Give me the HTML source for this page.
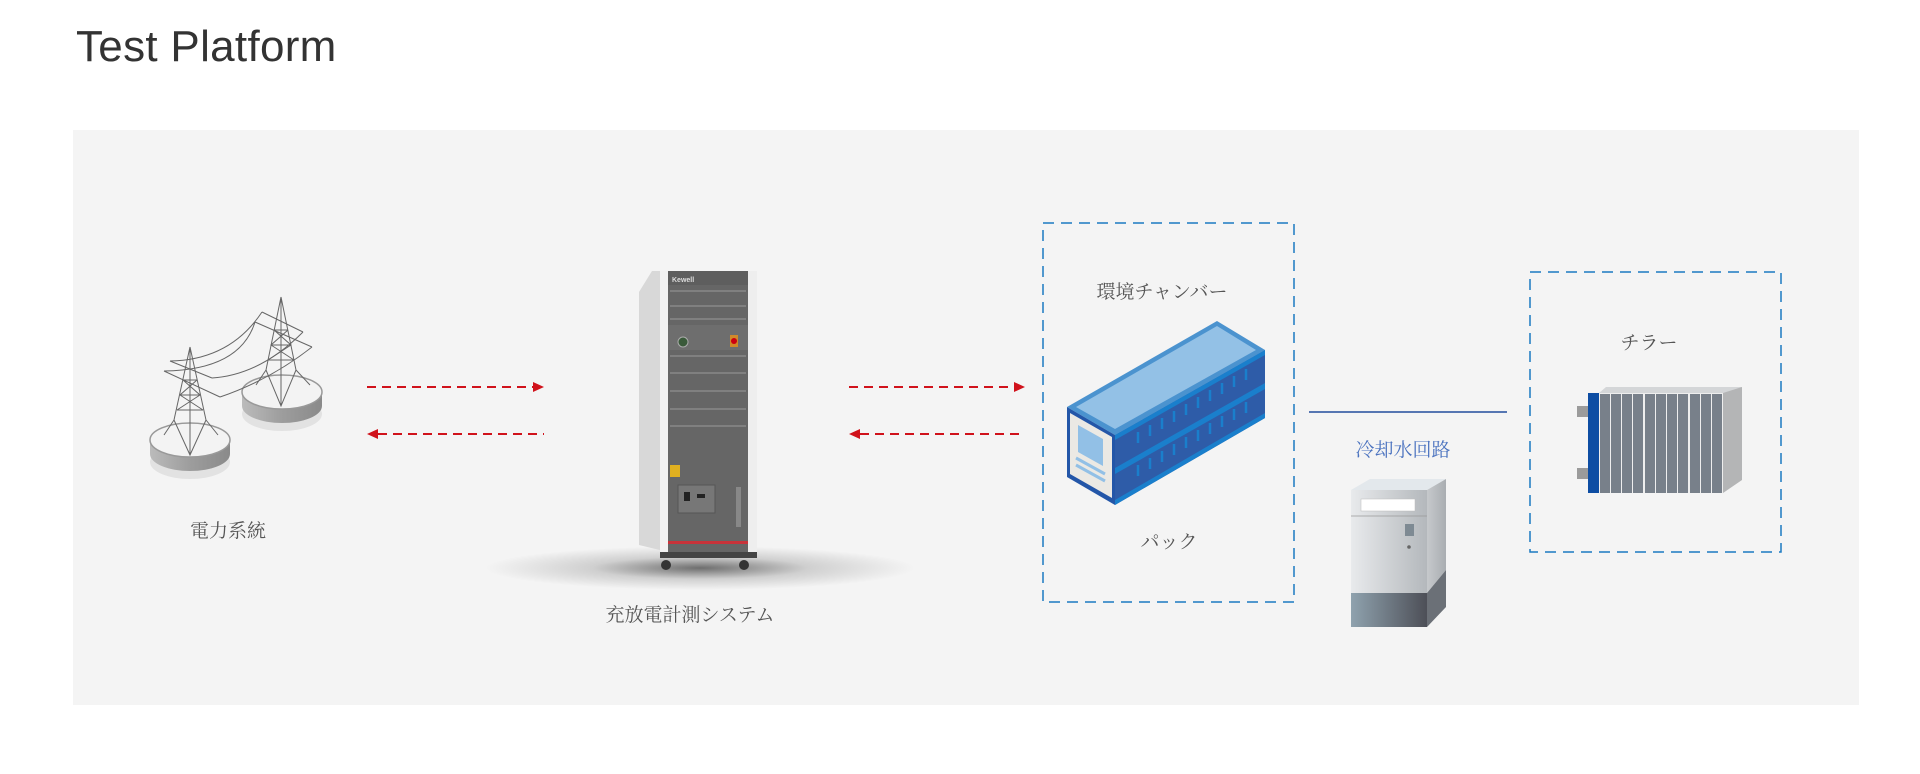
<!DOCTYPE html>
<html><head><meta charset="utf-8"><style>
html,body{margin:0;padding:0;background:#fff;width:1920px;height:774px;overflow:hidden}
.t{font-family:"Liberation Sans",sans-serif;font-size:44px;color:#333;position:absolute;left:76px;top:22px;letter-spacing:0.3px}
svg{position:absolute;left:0;top:0}
.jp{font-family:"Liberation Serif","Noto Serif CJK SC","Noto Sans CJK JP",serif;font-size:19px;fill:#555}
</style></head><body>
<div class="t">Test Platform</div>
<svg width="1920" height="774" viewBox="0 0 1920 774">
<defs>
<radialGradient id="sh" cx="50%" cy="50%" r="50%"><stop offset="0" stop-color="#000" stop-opacity="0.55"/><stop offset="0.5" stop-color="#000" stop-opacity="0.15"/><stop offset="1" stop-color="#000" stop-opacity="0"/></radialGradient>
<linearGradient id="disk" x1="0" x2="1"><stop offset="0" stop-color="#bbb"/><stop offset="0.5" stop-color="#9d9d9d"/><stop offset="1" stop-color="#8a8a8a"/></linearGradient>
<linearGradient id="cf" x1="0" x2="1"><stop offset="0" stop-color="#e8eaec"/><stop offset="1" stop-color="#b4b8bc"/></linearGradient>
<linearGradient id="cb" x1="0" x2="1"><stop offset="0" stop-color="#8fa2ae"/><stop offset="1" stop-color="#4d4f57"/></linearGradient>
<linearGradient id="cs" x1="0" x2="1"><stop offset="0" stop-color="#c6c9cc"/><stop offset="1" stop-color="#a9adb1"/></linearGradient>
</defs>
<rect x="73" y="130" width="1786" height="575" fill="#f4f4f4"/>

<!-- towers -->
<g>
<ellipse cx="190" cy="462" rx="40" ry="17" fill="#e2e2e2"/>
<path d="M150 440 v14 a40 17 0 0 0 80 0 v-14 z" fill="url(#disk)"/>
<ellipse cx="190" cy="440" rx="40" ry="17" fill="#f3f3f3" stroke="#999" stroke-width="1.5"/>
<ellipse cx="282" cy="414" rx="40" ry="17" fill="#e2e2e2"/>
<path d="M242 392 v14 a40 17 0 0 0 80 0 v-14 z" fill="url(#disk)"/>
<ellipse cx="282" cy="392" rx="40" ry="17" fill="#f3f3f3" stroke="#999" stroke-width="1.5"/>
<g stroke="#666" stroke-width="1" fill="none">
<path d="M190 347 L174 420 M190 347 L206 420 M190 347 V455 M174 420 L164 435 M206 420 L218 435 M183 380 L197 380 M180 395 L200 395 M177 410 L203 410 M183 380 L200 395 L177 410 M197 380 L180 395 L203 410 M170 361 L212 378 M164 371 L220 397 M174 420 L190 455 L206 420"/>
<path d="M281 297 L266 370 M281 297 L296 370 M281 297 V406 M266 370 L256 385 M296 370 L310 385 M274 330 L288 330 M271 345 L291 345 M268 360 L294 360 M274 330 L291 345 L268 360 M288 330 L271 345 L294 360 M262 312 L303 332 M255 322 L312 347 M266 370 L281 406 L296 370"/>
<path d="M170 361 Q230 360 262 312 M164 371 Q240 370 255 322 M212 378 Q260 375 303 332 M220 397 Q270 380 312 347"/>
</g>
</g>
<text class="jp" x="228" y="537" text-anchor="middle">電力系統</text>

<!-- red arrows -->
<g stroke="#d0121b" stroke-width="2" stroke-dasharray="9 6">
<line x1="367" y1="387" x2="535" y2="387"/><line x1="378" y1="434" x2="544" y2="434"/>
<line x1="849" y1="387" x2="1017" y2="387"/><line x1="860" y1="434" x2="1025" y2="434"/>
</g>
<g fill="#d0121b">
<path d="M533 382 L544 387 L533 392z"/><path d="M378 429 L367 434 L378 439z"/>
<path d="M1014 382 L1025 387 L1014 392z"/><path d="M860 429 L849 434 L860 439z"/>
</g>

<!-- cabinet -->
<ellipse cx="700" cy="568" rx="215" ry="22" fill="url(#sh)"/>
<g>
<path d="M639 292 L652 271 L668 271 L668 552 L639 545 z" fill="#d8d8d8"/>
<rect x="660" y="271" width="9" height="281" fill="#f2f2f2"/>
<rect x="668" y="271" width="80" height="283" fill="#666"/>
<rect x="668" y="271" width="80" height="14" fill="#5e5e5e"/>
<text x="672" y="282" font-family="Liberation Sans" font-size="7" font-weight="bold" fill="#ddd">Kewell</text>
<g fill="#808080">
<rect x="670" y="290" width="76" height="2"/><rect x="670" y="305" width="76" height="2"/><rect x="670" y="318" width="76" height="2"/>
<rect x="670" y="355" width="76" height="2"/><rect x="670" y="372" width="76" height="2"/><rect x="670" y="390" width="76" height="2"/><rect x="670" y="408" width="76" height="2"/><rect x="670" y="425" width="76" height="2"/>
</g>
<rect x="668" y="325" width="80" height="25" fill="#6e6e6e"/>
<circle cx="683" cy="342" r="5" fill="#3a5a3a" stroke="#aaa"/>
<rect x="730" y="335" width="8" height="12" fill="#d08a2a"/><circle cx="734" cy="341" r="3" fill="#c01"/>
<rect x="670" y="465" width="10" height="12" fill="#e0b020"/>
<rect x="678" y="485" width="37" height="28" fill="#777" stroke="#555"/>
<rect x="684" y="492" width="6" height="9" fill="#222"/><rect x="697" y="494" width="8" height="4" fill="#222"/>
<rect x="736" y="487" width="5" height="40" fill="#888"/>
<rect x="668" y="541" width="80" height="3" fill="#c8333a"/>
<rect x="748" y="271" width="9" height="283" fill="#eee"/>
<rect x="660" y="552" width="97" height="6" fill="#444"/>
<circle cx="666" cy="565" r="5" fill="#333"/><circle cx="744" cy="565" r="5" fill="#333"/>
</g>
<text class="jp" x="690" y="621" text-anchor="middle">充放電計測システム</text>

<!-- chamber box -->
<rect x="1043" y="223" width="251" height="379" fill="none" stroke="#1b7ac2" stroke-width="1.5" stroke-dasharray="11 7"/>
<text class="jp" x="1162" y="298" text-anchor="middle">環境チャンバー</text>
<g>
<path d="M1067 407 L1217 321 L1265 350 L1115 435 z" fill="#4b93cf"/>
<path d="M1076 407 L1217 326 L1256 350 L1115 429 z" fill="#93c1e6"/>
<path d="M1115 435 L1265 350 L1265 418 L1115 505 z" fill="#2e5ca8"/>
<path d="M1115 468 L1265 383 L1265 389 L1115 474 z" fill="#1a7fcc"/>
<path d="M1115 435 L1265 350 L1265 355 L1115 440 z" fill="#1a7fcc"/>
<path d="M1115 500 L1265 413 L1265 418 L1115 505 z" fill="#1a7fcc"/>
<g stroke="#1a7fcc" stroke-width="2.5">
<line x1="1138" y1="432" x2="1138" y2="443"/><line x1="1150" y1="425" x2="1150" y2="436"/><line x1="1162" y1="418" x2="1162" y2="429"/><line x1="1174" y1="411" x2="1174" y2="422"/><line x1="1186" y1="404" x2="1186" y2="415"/><line x1="1198" y1="397" x2="1198" y2="408"/><line x1="1210" y1="390" x2="1210" y2="401"/><line x1="1222" y1="383" x2="1222" y2="394"/><line x1="1234" y1="376" x2="1234" y2="387"/><line x1="1246" y1="369" x2="1246" y2="380"/>
<line x1="1138" y1="465" x2="1138" y2="476"/><line x1="1150" y1="458" x2="1150" y2="469"/><line x1="1162" y1="451" x2="1162" y2="462"/><line x1="1174" y1="444" x2="1174" y2="455"/><line x1="1186" y1="437" x2="1186" y2="448"/><line x1="1198" y1="430" x2="1198" y2="441"/><line x1="1210" y1="423" x2="1210" y2="434"/><line x1="1222" y1="416" x2="1222" y2="427"/><line x1="1234" y1="409" x2="1234" y2="420"/><line x1="1246" y1="402" x2="1246" y2="413"/>
</g>
<path d="M1067 407 L1115 435 L1115 505 L1067 477 z" fill="#2356a8"/>
<path d="M1070 413 L1112 437 L1112 498 L1070 474 z" fill="#ebe9e4"/>
<path d="M1078 425 L1103 439 L1103 466 L1078 452 z" fill="#92c0e6"/>
<line x1="1076" y1="458" x2="1105" y2="474" stroke="#92c0e6" stroke-width="3"/>
<line x1="1076" y1="465" x2="1105" y2="481" stroke="#92c0e6" stroke-width="3"/>
</g>
<text class="jp" x="1169" y="548" text-anchor="middle">パック</text>

<!-- water line -->
<line x1="1309" y1="412" x2="1507" y2="412" stroke="#5676b2" stroke-width="2"/>
<text x="1403" y="456" text-anchor="middle" font-family="Liberation Serif,'Noto Serif CJK SC',serif" font-size="19" fill="#4a72bf">冷却水回路</text>
<g>
<path d="M1351 490 L1370 479 L1446 479 L1427 490 z" fill="#e3e8ec"/>
<path d="M1427 490 L1446 479 L1446 570 L1427 593 z" fill="url(#cs)"/>
<path d="M1427 593 L1446 570 L1446 607 L1427 627 z" fill="#6b7077"/>
<rect x="1351" y="490" width="76" height="103" fill="url(#cf)"/>
<line x1="1351" y1="516" x2="1427" y2="516" stroke="#999" stroke-width="0.8"/>
<rect x="1361" y="499" width="54" height="12" fill="#fff" stroke="#bbb" stroke-width="0.5"/>
<rect x="1405" y="524" width="9" height="12" fill="#7e8a93"/><circle cx="1409" cy="547" r="1.8" fill="#666"/>
<rect x="1351" y="593" width="76" height="34" fill="url(#cb)"/>
</g>

<!-- chiller box -->
<rect x="1530" y="272" width="251" height="280" fill="none" stroke="#1b7ac2" stroke-width="1.5" stroke-dasharray="11 7"/>
<text class="jp" x="1649" y="349" text-anchor="middle">チラー</text>
<g>
<path d="M1599 393 L1606 387 L1742 387 L1735 393 z" fill="#d4d6d8"/>
<path d="M1723 393 L1742 387 L1742 480 L1723 493 z" fill="#b4b5b6"/>
<rect x="1599" y="393" width="124" height="100" fill="#eee"/>
<g fill="#78808a">
<rect x="1600" y="394" width="10" height="99"/><rect x="1611" y="394" width="10" height="99"/><rect x="1622" y="394" width="10" height="99"/><rect x="1633" y="394" width="10" height="99"/><rect x="1645" y="394" width="10" height="99"/><rect x="1656" y="394" width="10" height="99"/><rect x="1667" y="394" width="10" height="99"/><rect x="1678" y="394" width="10" height="99"/><rect x="1690" y="394" width="10" height="99"/><rect x="1701" y="394" width="10" height="99"/><rect x="1712" y="394" width="10" height="99"/>
</g>
<rect x="1588" y="393" width="11" height="100" fill="#0d4da3"/>
<rect x="1577" y="406" width="11" height="11" fill="#9b9b9b"/>
<rect x="1577" y="468" width="11" height="11" fill="#9b9b9b"/>
</g>
</svg>
</body></html>
